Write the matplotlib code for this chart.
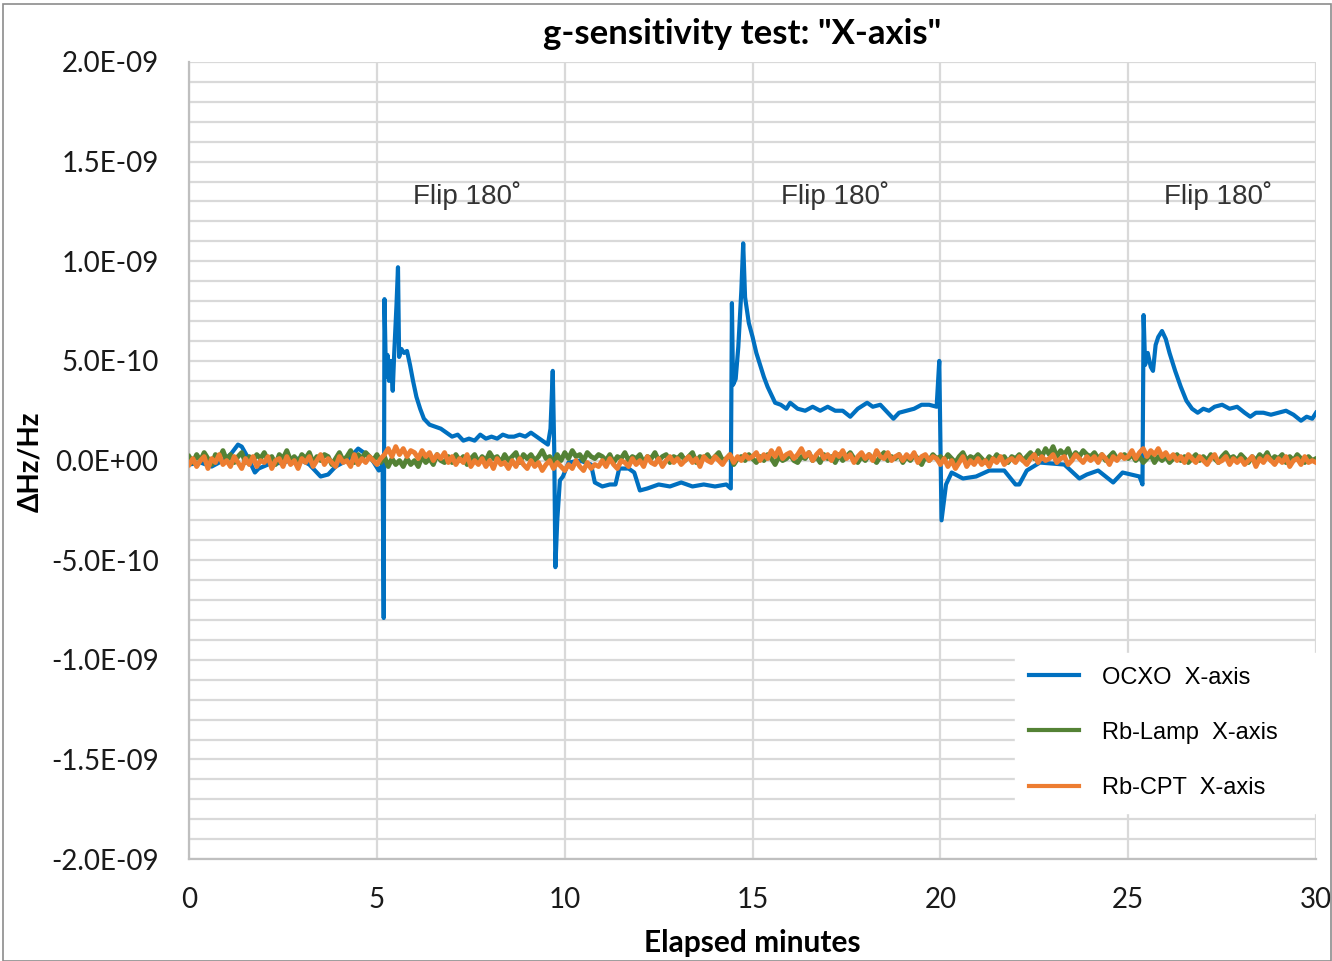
import numpy as np
import matplotlib
matplotlib.use("Agg")
import matplotlib.pyplot as plt
from matplotlib.patches import Rectangle
from matplotlib.ticker import MultipleLocator

# OCXO trace: (minutes, value in 1e-10)
ocxo_t = [0.0, 0.3, 0.6, 0.9, 1.1, 1.3, 1.4, 1.55, 1.75, 1.85, 2.1, 2.5, 2.9, 3.2, 3.5,
          3.7, 3.9, 4.2, 4.5, 4.65, 4.85, 5.05, 5.15, 5.18, 5.2, 5.24, 5.28, 5.32, 5.37,
          5.42, 5.46, 5.52, 5.56, 5.59, 5.65, 5.72, 5.8, 5.88, 5.96, 6.05, 6.15, 6.25, 6.4,
          6.55, 6.7, 6.85, 7.0, 7.15, 7.3, 7.45, 7.6, 7.75, 7.9, 8.05, 8.2, 8.35, 8.5, 8.65,
          8.8, 8.95, 9.1, 9.25, 9.4, 9.55, 9.62, 9.68, 9.72, 9.75, 9.8, 9.87, 9.95, 10.1,
          10.4, 10.7, 10.8, 11.0, 11.2, 11.35, 11.45, 11.7, 11.85, 12.0, 12.2, 12.5, 12.8,
          13.1, 13.4, 13.7, 14.0, 14.3, 14.42, 14.45, 14.48, 14.55, 14.62, 14.7, 14.75,
          14.8, 14.9, 15.0, 15.1, 15.2, 15.3, 15.4, 15.5, 15.6, 15.75, 15.9, 16.0, 16.2,
          16.4, 16.6, 16.8, 17.0, 17.2, 17.4, 17.6, 17.8, 18.05, 18.2, 18.4, 18.55, 18.75,
          18.9, 19.1, 19.3, 19.5, 19.7, 19.9, 19.97, 20.03, 20.15, 20.3, 20.6, 20.95, 21.3,
          21.7, 22.0, 22.1, 22.3, 22.65, 23.3, 23.7, 23.9, 24.2, 24.6, 24.85, 25.3, 25.38,
          25.41, 25.45, 25.52, 25.6, 25.66, 25.73, 25.8, 25.9, 26.0, 26.1, 26.25, 26.4,
          26.55, 26.7, 26.85, 27.0, 27.15, 27.3, 27.5, 27.7, 27.9, 28.1, 28.25, 28.4, 28.6,
          28.8, 29.0, 29.2, 29.4, 29.6, 29.75, 29.9, 30.0]
ocxo_v = [-0.2, -0.1, -0.3, 0.0, 0.3, 0.8, 0.7, 0.2, -0.6, -0.4, -0.2, -0.1, 0.1, -0.2, -0.8,
          -0.7, -0.3, 0.0, 0.6, 0.4, 0.1, -0.5, -0.2, -7.9, 8.1, 4.2, 5.3, 4.0, 5.0,
          3.5, 5.4, 7.8, 9.7, 5.2, 5.6, 5.4, 5.5, 4.8, 4.0, 3.2, 2.6, 2.1, 1.8,
          1.7, 1.6, 1.4, 1.2, 1.3, 1.0, 1.1, 1.0, 1.3, 1.1, 1.2, 1.1, 1.3, 1.2, 1.2,
          1.3, 1.2, 1.4, 1.2, 1.0, 0.8, 1.6, 4.5, 0.5, -5.35, -3.0, -1.0, -0.8, -0.1,
          0.0, -0.2, -1.1, -1.3, -1.2, -1.2, -0.4, -0.4, -0.6, -1.5, -1.4, -1.2, -1.3,
          -1.1, -1.3, -1.2, -1.3, -1.2, -1.4, 7.9, 3.8, 4.1, 5.7, 8.5, 10.9,
          8.2, 6.9, 6.2, 5.4, 4.8, 4.2, 3.7, 3.3, 2.9, 2.8, 2.6, 2.9, 2.6,
          2.5, 2.7, 2.5, 2.7, 2.5, 2.5, 2.2, 2.6, 2.9, 2.7, 2.8, 2.5, 2.1,
          2.4, 2.5, 2.6, 2.8, 2.8, 2.7, 5.0, -3.0, -1.2, -0.6, -0.9, -0.8, -0.5,
          -0.5, -1.2, -1.2, -0.5, -0.1, -0.2, -0.9, -0.7, -0.5, -1.1, -0.6, -0.8, -1.2,
          7.3, 4.8, 5.4, 4.7, 4.5, 5.8, 6.2, 6.5, 6.1, 5.4, 4.5, 3.7,
          3.0, 2.6, 2.4, 2.6, 2.5, 2.7, 2.8, 2.6, 2.7, 2.4, 2.2, 2.4, 2.4,
          2.3, 2.4, 2.5, 2.3, 2.0, 2.2, 2.1, 2.4]

# Rb traces sampled every 0.1 minute, values in 1e-11
lamp_v = [2, -1, 3, 0, 4, 1, -2, 3, 1, 5,
          0, 3, -1, 2, 4, -1, 2, 0, 3, 1,
          4, 0, 2, -2, 3, 1, 5, 0, 2, -1,
          3, 1, 4, -1, 2, 0, 3, 2, -2, 1,
          4, 0, 2, 5, -1, 3, 1, 4, 2, 0,
          3, -1, 2, -3, 1, -2, 0, -3, 1, -2,
          0, -3, 2, -1, 1, -2, 3, 0, -1, 2,
          -1, 3, 0, 2, -2, 1, 3, -1, 2, 0,
          4, 1, 2, -1, 3, 0, 2, 4, -1, 3,
          1, 3, 0, 2, 5, 1, 2, -1, 3, 0,
          4, 1, 5, 2, 3, 0, 4, 2, 1, 3,
          2, 0, 3, -1, 2, 1, 4, 0, 2, 1,
          3, -1, 2, 1, 4, 0, 2, 3, -1, 2,
          1, 3, 0, 2, 4, -1, 2, 1, 3, 0,
          2, 4, 0, 1, 3, -2, 1, 2, 0, 3,
          1, -1, 2, 0, 3, 1, -2, 2, 0, 1,
          3, 0, -1, 2, 1, 4, 0, 2, -1, 3,
          1, 2, -1, 3, 0, 2, 4, 1, -1, 2,
          0, 3, 1, -1, 2, 4, 0, 2, 1, 3,
          -1, 2, 0, 3, 1, -2, 2, 0, 3, 1,
          2, 0, 3, 1, -1, 2, 4, 0, 2, 1,
          3, 1, -1, 2, 0, 3, 1, 2, -1, 2,
          1, 3, 0, 2, 4, 1, 5, 2, 6, 3,
          7, 2, 5, 3, 6, 1, 4, 2, 5, 3,
          2, 4, 1, 3, 0, 2, 4, 1, 2, 3,
          1, 3, 0, 2, -1, 1, 3, -1, 2, 0,
          2, -1, 1, 3, 0, 2, -1, 1, 3, 0,
          2, 0, 3, 1, -1, 2, 4, 1, 2, 0,
          3, 1, -1, 2, 0, 3, 1, 4, 0, 2,
          1, 3, -1, 2, 0, 3, 1, -1, 2, 0,
          1]
cpt_v = [-2, 1, -3, 0, 2, -4, 1, -1, 3, -2,
         0, -3, 2, -1, -4, 1, -2, 2, -3, 0,
         -1, 2, -4, 0, 1, -3, 2, -2, 0, -4,
         1, -1, 2, -3, 0, 3, -2, 1, -1, -3,
         2, -1, 0, -3, 3, -2, 1, -1, 2, 0,
         -2, 1, 3, 6, 2, 7, 3, 6, 2, 5,
         4, 1, 5, 2, 4, 0, 3, 1, 4, -1,
         2, -2, 1, -1, 3, -3, 0, -2, 1, -3,
         0, -4, 1, -2, -1, -4, 0, -3, 1, -2,
         -4, 0, -3, -1, -5, -2, 0, -4, -1, -3,
         -5, -2, -4, 0, -3, -5, -1, -4, -2, -3,
         0, -3, 1, -2, -4, 0, -1, -3, 1, -2,
         0, -3, 2, -1, -2, 1, -3, 0, 2, -1,
         1, -2, 0, 2, -1, 1, -3, 2, 0, -1,
         2, 0, -2, 1, 3, -1, 2, 0, 3, 1,
         2, 4, 0, 3, 1, 5, 2, 6, 1, 3,
         4, 1, 3, 6, 2, 4, 0, 3, 5, 1,
         3, 0, 4, 2, 5, 1, 3, -1, 2, 4,
         1, 3, 0, 5, 2, 1, 4, 0, 2, 3,
         0, 3, 1, 4, -1, 2, 3, 0, 2, 1,
         -2, 1, -3, 0, -4, -1, 2, -3, 0, -2,
         1, -2, 0, -3, 1, -1, 2, -2, 0, 1,
         -1, 2, 0, -2, 1, 3, -1, 2, 0, 1,
         3, -1, 1, 2, -2, 0, 3, 1, -1, 2,
         0, 2, -1, 3, 1, -2, 2, 0, 3, 1,
         2, 5, 1, 4, 6, 2, 5, 3, 6, 2,
         4, 1, 3, 0, 2, -1, 3, 1, -1, 2,
         0, -2, 1, 3, -1, 0, 2, -2, 1, -1,
         1, -2, 0, 2, -3, 1, -1, 2, 0, -2,
         1, -1, 2, -3, 0, 1, -2, 2, -1, 0,
         -1]
rb_t = np.arange(len(lamp_v)) * 0.1

flip_t = [7.4, 17.2, 27.4]
series_names = ["OCXO  X-axis", "Rb-Lamp  X-axis", "Rb-CPT  X-axis"]
colors = ["#0070C0", "#548235", "#ED7D31"]

calibri = ["Lato", "DejaVu Sans"]
arial = ["Liberation Sans", "DejaVu Sans"]

fig = plt.figure(figsize=(13.32, 9.61), dpi=100)
ax = fig.add_axes([0.142, 0.106, 0.846, 0.8295])

ax.plot(ocxo_t, np.array(ocxo_v) * 1e-10, color=colors[0], lw=3, label=series_names[0], zorder=3)
ax.plot(rb_t, np.array(lamp_v) * 1e-11, color=colors[1], lw=3.5, label=series_names[1], zorder=4)
ax.plot(rb_t, np.array(cpt_v) * 1e-11, color=colors[2], lw=3.5, label=series_names[2], zorder=5)

ax.set_xlim(0, 30)
ax.set_ylim(-2e-9, 2e-9)
ax.xaxis.set_major_locator(MultipleLocator(5))
ax.yaxis.set_major_locator(MultipleLocator(5e-10))
ax.yaxis.set_minor_locator(MultipleLocator(1e-10))
ax.grid(True, which="both", axis="y", color="#d9d9d9", lw=1.6)
ax.grid(True, which="major", axis="x", color="#d9d9d9", lw=1.6)
ax.set_axisbelow(True)
for s in ["top", "right"]:
    ax.spines[s].set_visible(False)
for s in ["left", "bottom"]:
    ax.spines[s].set_color("#bfbfbf")
    ax.spines[s].set_linewidth(1.6)
ax.tick_params(which="both", length=0)
ax.tick_params(axis="y", pad=22)
ax.tick_params(axis="x", pad=20)
ax.set_yticks(np.arange(-2e-9, 2.01e-9, 5e-10))
ax.set_yticklabels(["%.1E" % v if abs(v) > 1e-12 else "0.0E+00" for v in ax.get_yticks()])
for lab in ax.get_xticklabels() + ax.get_yticklabels():
    lab.set_family(calibri)
    lab.set_fontsize(20)
    lab.set_color("#1a1a1a")

for t in flip_t:
    ax.text(t, 1.33e-9, "Flip 180˚", ha="center", va="center", fontsize=20,
            family=arial, color="#333333")

fig.text(0.557, 0.965, 'g-sensitivity test: "X-axis"', ha="center", va="center",
         fontsize=25, fontweight="bold", family=calibri)
fig.text(0.565, 0.019, "Elapsed minutes", ha="center", va="center",
         fontsize=21.5, fontweight="bold", family=calibri)
fig.text(0.023, 0.52, "ΔHz/Hz", ha="center", va="center", rotation=90,
         fontsize=20, fontweight="bold", family=calibri)

leg = ax.legend(loc="upper left", bbox_to_anchor=(0.762, 0.15, 0.236, 0.171),
                bbox_transform=fig.transFigure, mode="expand",
                prop={"family": arial, "size": 17}, frameon=True, fancybox=False,
                handlelength=2.1, handletextpad=1.0, labelspacing=1.4, borderpad=0.6,
                borderaxespad=0)
leg.get_frame().set_edgecolor("white")
leg.get_frame().set_facecolor("white")
leg.get_frame().set_alpha(1)
for line in leg.get_lines():
    line.set_linewidth(3)

fig.patches.append(Rectangle((0.002, 0.0), 0.997, 0.996, transform=fig.transFigure,
                             fill=False, edgecolor="#8c8c8c", lw=1.2))

fig.savefig("out.png", dpi=100)
